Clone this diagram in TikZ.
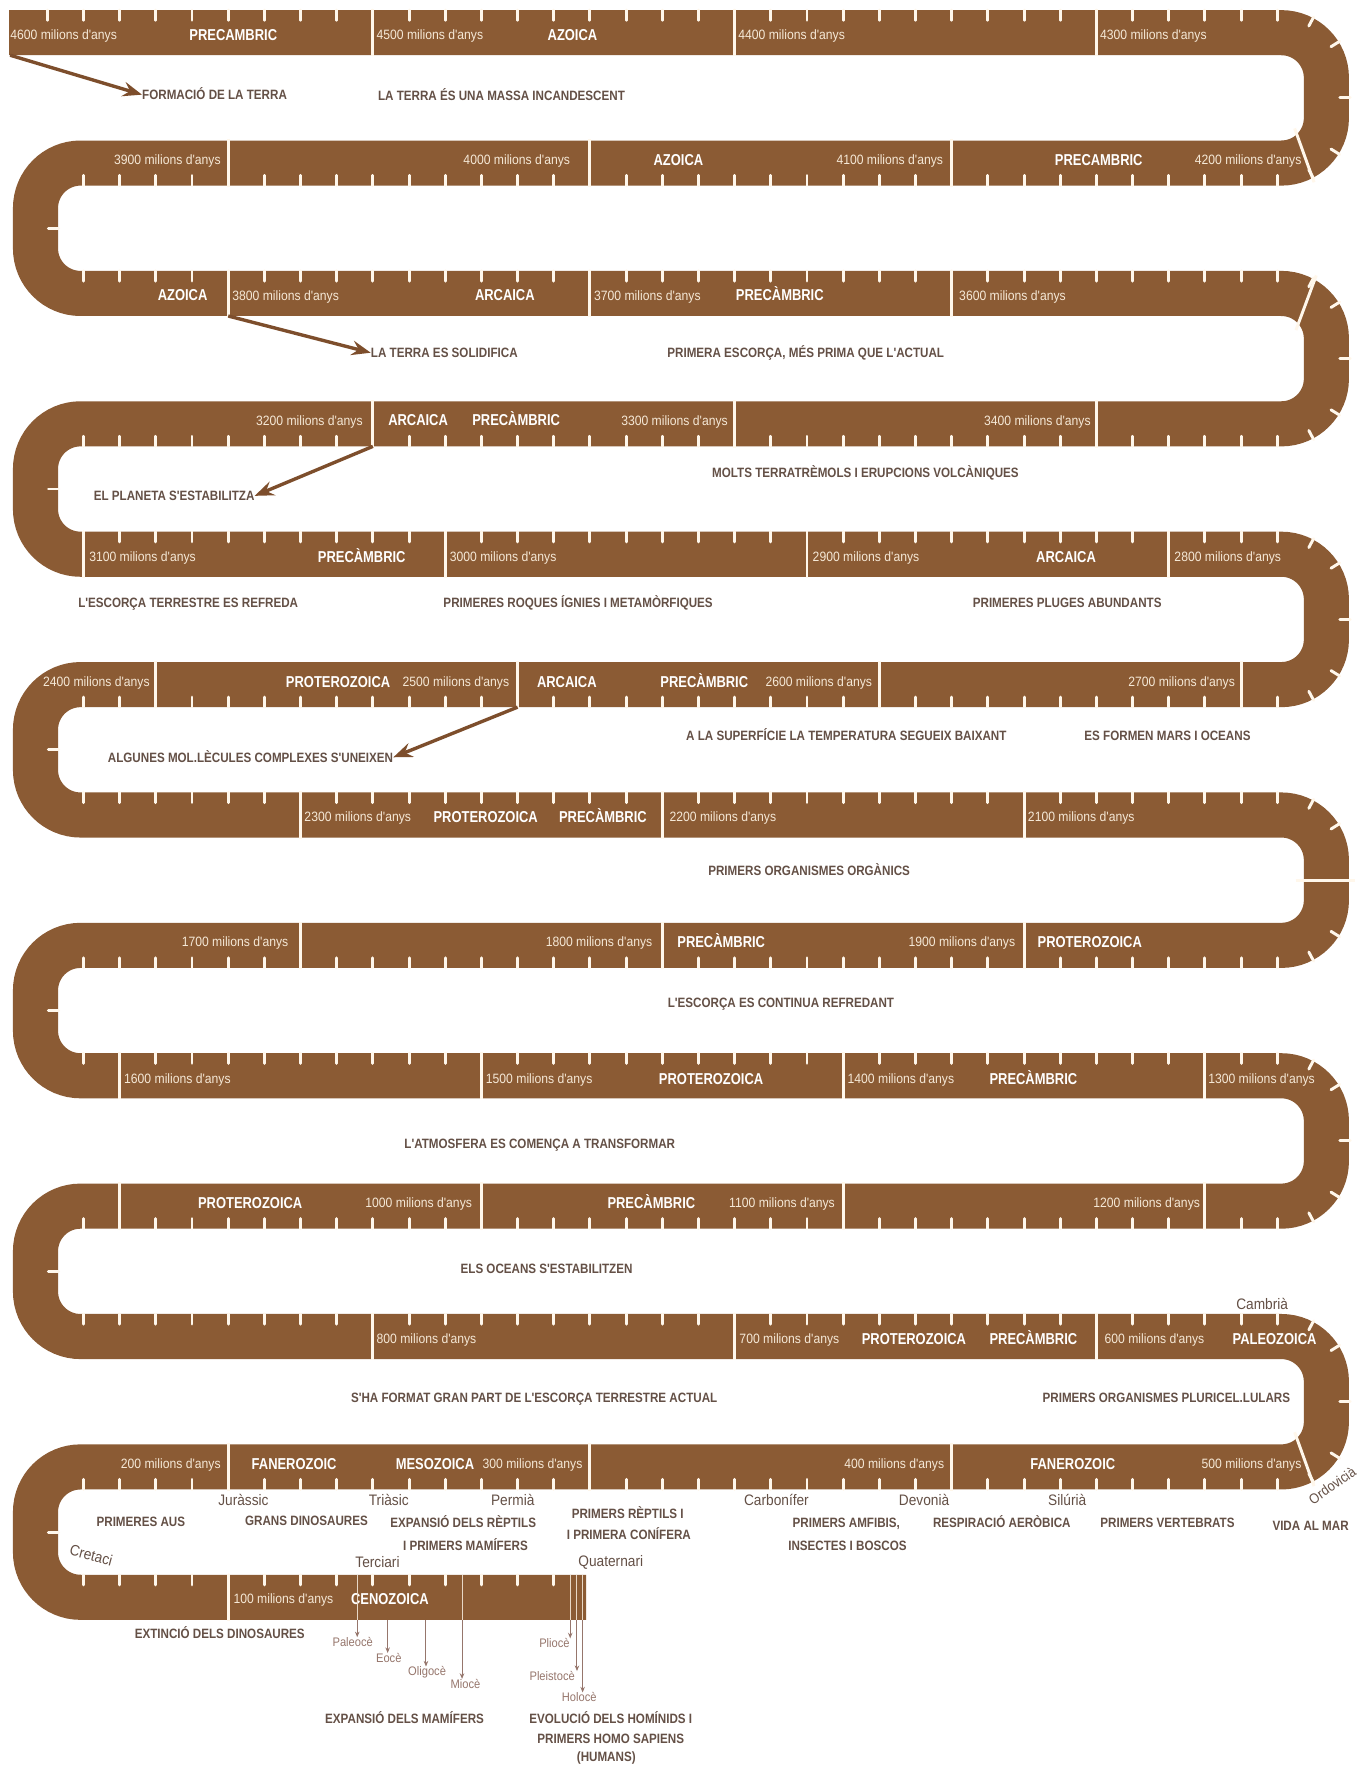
\documentclass[tikz,border=0pt]{standalone}
\usepackage{fontspec}
\setmainfont{Liberation Sans}
\newfontfamily\nar[FakeStretch=0.82]{Liberation Sans}
\newfontfamily\narev[FakeStretch=0.86]{Liberation Sans}
\newfontfamily\narm[FakeStretch=0.9]{Liberation Sans}
\usetikzlibrary{arrows.meta,calc}
\definecolor{band}{RGB}{139,91,52}
\definecolor{tick}{RGB}{255,247,235}
\definecolor{dtext}{RGB}{100,80,70}
\definecolor{ltext}{RGB}{245,232,214}
\definecolor{arr}{RGB}{125,78,44}
\definecolor{epo}{RGB}{150,118,108}
\newcommand\bandticks[4]{%
  \foreach \j in {#3,...,#4}{\draw[tk] ({42+32.1*\j},{#1+#2*20}) -- ++(0,{-#2*9});}}
\newcommand\bandseps[2]{%
  \foreach \j in {#2}{\draw[sep] ({42+32.1*\j},{#1-21}) -- ({42+32.1*\j},{#1+21});}}
\begin{document}
\begin{tikzpicture}[x=1pt,y=-1pt,
  bandline/.style={line width=40pt, draw=band, rounded corners=40pt},
  tk/.style={draw=tick, line width=2.6pt, line cap=round},
  sep/.style={draw=tick, line width=2.6pt},
  era/.style={text=white, font=\nar\bfseries\fontsize{14}{14}\selectfont, inner sep=0pt, text height=10pt, text depth=0pt},
  myr/.style={text=ltext, font=\narm\fontsize{12}{12}\selectfont, inner sep=0pt, text height=8.6pt, text depth=0pt},
  ev/.style={text=dtext, font=\narev\bfseries\fontsize{12}{12}\selectfont, inner sep=0pt, text height=8.6pt, text depth=0pt},
  per/.style={text=dtext, font=\narm\fontsize{13.5}{13.5}\selectfont, inner sep=0pt, text height=9.6pt, text depth=0pt},
  epoch/.style={text=epo, font=\narm\fontsize{11}{11}\selectfont, inner sep=0pt, text height=7.9pt, text depth=0pt},
  bigarrow/.style={draw=arr, line width=3pt, -{Stealth[length=17pt,width=13pt,inset=6pt]}},
  thinarrow/.style={draw=epo, line width=0.9pt, -{Stealth[length=5pt,width=4pt]}},
  inband/.style={draw=tick!80!band, line width=0.9pt}
]
\fill[white] (0,0) rectangle (1212,1568);
\useasboundingbox (0,0) rectangle (1212,1568);
% serpentine band
\draw[bandline] (8,29) -- (1177,29) -- (1177,144.7) -- (31.5,144.7) -- (31.5,260.4) -- (1177,260.4) -- (1177,376.1) -- (31.5,376.1) -- (31.5,491.8) -- (1177,491.8) -- (1177,607.5) -- (31.5,607.5) -- (31.5,723.2) -- (1177,723.2) -- (1177,838.9) -- (31.5,838.9) -- (31.5,954.6) -- (1177,954.6) -- (1177,1070.3) -- (31.5,1070.3) -- (31.5,1186) -- (1177,1186) -- (1177,1301.7) -- (31.5,1301.7) -- (31.5,1417.4) -- (520,1417.4);
% ticks
\bandticks{29}{-1}{0}{34}
\bandticks{144.7}{1}{1}{34}
\bandticks{260.4}{-1}{1}{34}
\bandticks{376.1}{1}{1}{34}
\bandticks{491.8}{-1}{1}{34}
\bandticks{607.5}{1}{1}{34}
\bandticks{723.2}{-1}{1}{34}
\bandticks{838.9}{1}{1}{34}
\bandticks{954.6}{-1}{1}{34}
\bandticks{1070.3}{1}{1}{34}
\bandticks{1186}{-1}{1}{34}
\bandticks{1301.7}{1}{1}{34}
\bandticks{1417.4}{-1}{1}{14}
% curve notches
\foreach \yu/\yl in {29/144.7, 260.4/376.1, 491.8/607.5, 723.2/838.9, 954.6/1070.3, 1186/1301.7}{
  \foreach \a in {-62,-32}{\draw[tk] ($(1137,{\yu+40})+(\a:61)$) -- ($(1137,{\yu+40})+(\a:52)$);}
  \draw[tk] (1198,{(\yu+\yl)/2}) -- (1189,{(\yu+\yl)/2});
  \foreach \a in {32,62}{\draw[tk] ($(1137,{\yl-40})+(\a:61)$) -- ($(1137,{\yl-40})+(\a:52)$);}
}
\foreach \yu/\yl in {144.7/260.4, 376.1/491.8, 607.5/723.2, 838.9/954.6, 1070.3/1186, 1301.7/1417.4}{
  \draw[tk] (52,{(\yu+\yl)/2}) -- (43,{(\yu+\yl)/2});
}
% segment separators
\bandseps{29}{9,19,29}
\bandseps{144.7}{5,15,25}
\bandseps{260.4}{5,15,25}
\bandseps{376.1}{9,19,29}
\bandseps{491.8}{1,11,21,31}
\bandseps{607.5}{3,13,23,33}
\bandseps{723.2}{7,17,27}
\bandseps{838.9}{7,17,27}
\bandseps{954.6}{2,12,22,32}
\bandseps{1070.3}{2,12,22,32}
\bandseps{1186}{9,19,29}
\bandseps{1301.7}{5,15,25}
\bandseps{1417.4}{5}
\draw[sep] ($(1137,104.7)+(38:15)$) -- ($(1137,104.7)+(63:64)$);
\draw[sep] ($(1137,1261.7)+(38:15)$) -- ($(1137,1261.7)+(63:64)$);
\draw[sep] ($(1137,300.4)+(-30:15)$) -- ($(1137,300.4)+(-61:64)$);
\draw[sep] (1150,781) -- (1202,781);
% row 0
\node[myr,anchor=west] (t4600) at (9,31) {4600 milions d'anys};
\node[era] (e0a) at (207,31) {PRECAMBRIC};
\node[myr,anchor=west] (t4500) at (334,31) {4500 milions d'anys};
\node[era] (e0b) at (508,31) {AZOICA};
\node[myr,anchor=west] (t4400) at (655,31) {4400 milions d'anys};
\node[myr,anchor=west] (t4300) at (976,31) {4300 milions d'anys};
% row 1
\node[myr,anchor=east] (t4200) at (1155,142) {4200 milions d'anys};
\node[era] (e1a) at (975,142) {PRECAMBRIC};
\node[myr,anchor=east] (t4100) at (837,142) {4100 milions d'anys};
\node[era] (e1b) at (602,142) {AZOICA};
\node[myr,anchor=east] (t4000) at (506,142) {4000 milions d'anys};
\node[myr,anchor=east] (t3900) at (196,142) {3900 milions d'anys};
% row 2
\node[era] (e2a) at (162,262) {AZOICA};
\node[myr,anchor=west] (t3800) at (206,262) {3800 milions d'anys};
\node[era] (e2b) at (448,262) {ARCAICA};
\node[myr,anchor=west] (t3700) at (527,262) {3700 milions d'anys};
\node[era] (e2c) at (692,262) {PRECÀMBRIC};
\node[myr,anchor=west] (t3600) at (851,262) {3600 milions d'anys};
% row 3
\node[myr,anchor=east] (t3400) at (968,373) {3400 milions d'anys};
\node[myr,anchor=east] (t3300) at (646,373) {3300 milions d'anys};
\node[era] (e3a) at (458,373) {PRECÀMBRIC};
\node[era] (e3b) at (371,373) {ARCAICA};
\node[myr,anchor=east] (t3200) at (322,373) {3200 milions d'anys};
% row 4
\node[myr,anchor=west] (t3100) at (79,494) {3100 milions d'anys};
\node[era] (e4a) at (321,494) {PRECÀMBRIC};
\node[myr,anchor=west] (t3000) at (399,494) {3000 milions d'anys};
\node[myr,anchor=west] (t2900) at (721,494) {2900 milions d'anys};
\node[era] (e4b) at (946,494) {ARCAICA};
\node[myr,anchor=west] (t2800) at (1042,494) {2800 milions d'anys};
% row 5
\node[myr,anchor=east] (t2700) at (1096,605) {2700 milions d'anys};
\node[myr,anchor=east] (t2600) at (774,605) {2600 milions d'anys};
\node[era] (e5a) at (625,605) {PRECÀMBRIC};
\node[era] (e5b) at (503,605) {ARCAICA};
\node[myr,anchor=east] (t2500) at (452,605) {2500 milions d'anys};
\node[era] (e5c) at (300,605) {PROTEROZOICA};
\node[myr,anchor=east] (t2400) at (133,605) {2400 milions d'anys};
% row 6
\node[myr,anchor=west] (t2300) at (270,725) {2300 milions d'anys};
\node[era] (e6a) at (431,725) {PROTEROZOICA};
\node[era] (e6b) at (535,725) {PRECÀMBRIC};
\node[myr,anchor=west] (t2200) at (594,725) {2200 milions d'anys};
\node[myr,anchor=west] (t2100) at (912,725) {2100 milions d'anys};
% row 7
\node[era] (e7a) at (967,836) {PROTEROZOICA};
\node[myr,anchor=east] (t1900) at (901,836) {1900 milions d'anys};
\node[era] (e7b) at (640,836) {PRECÀMBRIC};
\node[myr,anchor=east] (t1800) at (579,836) {1800 milions d'anys};
\node[myr,anchor=east] (t1700) at (256,836) {1700 milions d'anys};
% row 8
\node[myr,anchor=west] (t1600) at (110,957) {1600 milions d'anys};
\node[myr,anchor=west] (t1500) at (431,957) {1500 milions d'anys};
\node[era] (e8a) at (631,957) {PROTEROZOICA};
\node[myr,anchor=west] (t1400) at (752,957) {1400 milions d'anys};
\node[era] (e8b) at (917,957) {PRECÀMBRIC};
\node[myr,anchor=west] (t1300) at (1072,957) {1300 milions d'anys};
% row 9
\node[myr,anchor=east] (t1200) at (1065,1067) {1200 milions d'anys};
\node[myr,anchor=east] (t1100) at (741,1067) {1100 milions d'anys};
\node[era] (e9a) at (578,1067) {PRECÀMBRIC};
\node[myr,anchor=east] (t1000) at (419,1067) {1000 milions d'anys};
\node[era] (e9b) at (222,1067) {PROTEROZOICA};
% row 10
\node[myr,anchor=west] (t800) at (334,1188) {800 milions d'anys};
\node[myr,anchor=west] (t700) at (656,1188) {700 milions d'anys};
\node[era] (e10a) at (811,1188) {PROTEROZOICA};
\node[era] (e10b) at (917,1188) {PRECÀMBRIC};
\node[myr,anchor=west] (t600) at (980,1188) {600 milions d'anys};
\node[era] (e10c) at (1131,1188) {PALEOZOICA};
% row 11
\node[myr,anchor=east] (t500) at (1155,1299) {500 milions d'anys};
\node[era] (e11a) at (952,1299) {FANEROZOIC};
\node[myr,anchor=east] (t400) at (838,1299) {400 milions d'anys};
\node[myr,anchor=east] (t300) at (517,1299) {300 milions d'anys};
\node[era] (e11b) at (386,1299) {MESOZOICA};
\node[era] (e11c) at (261,1299) {FANEROZOIC};
\node[myr,anchor=east] (t200) at (196,1299) {200 milions d'anys};
% row 12
\node[myr,anchor=west] (t100) at (207,1419) {100 milions d'anys};
\node[era] (e12a) at (346,1419) {CENOZOICA};
% events between rows
\node[ev,anchor=west] (formacio) at (126,84) {FORMACIÓ DE LA TERRA};
\node[ev] (massa) at (445,85) {LA TERRA ÉS UNA MASSA INCANDESCENT};
\node[ev,anchor=west] (solid) at (329,313) {LA TERRA ES SOLIDIFICA};
\node[ev] (escorca) at (715,313) {PRIMERA ESCORÇA, MÉS PRIMA QUE L'ACTUAL};
\node[ev,anchor=east] (estab) at (226,440) {EL PLANETA S'ESTABILITZA};
\node[ev] (terratr) at (768,419) {MOLTS TERRATRÈMOLS I ERUPCIONS VOLCÀNIQUES};
\node[ev] (refreda) at (167,535) {L'ESCORÇA TERRESTRE ES REFREDA};
\node[ev] (roques) at (513,535) {PRIMERES ROQUES ÍGNIES I METAMÒRFIQUES};
\node[ev] (pluges) at (947,535) {PRIMERES PLUGES ABUNDANTS};
\node[ev,anchor=east] (molec) at (349,672) {ALGUNES MOL.LÈCULES COMPLEXES S'UNEIXEN};
\node[ev] (superf) at (751,653) {A LA SUPERFÍCIE LA TEMPERATURA SEGUEIX BAIXANT};
\node[ev] (mars) at (1036,653) {ES FORMEN MARS I OCEANS};
\node[ev] (organ) at (718,773) {PRIMERS ORGANISMES ORGÀNICS};
\node[ev] (contin) at (693,890) {L'ESCORÇA ES CONTINUA REFREDANT};
\node[ev] (atmos) at (479,1015) {L'ATMOSFERA ES COMENÇA A TRANSFORMAR};
\node[ev] (oceans) at (485,1126) {ELS OCEANS S'ESTABILITZEN};
\node[ev] (format) at (474,1240) {S'HA FORMAT GRAN PART DE L'ESCORÇA TERRESTRE ACTUAL};
\node[ev] (pluric) at (1035,1240) {PRIMERS ORGANISMES PLURICEL.LULARS};
% arrows
\coordinate (a1s) at (9,49);
\coordinate (a2s) at (202.5,280.4);
\coordinate (a3s) at (330.9,396.1);
\coordinate (a4s) at (459.3,627.5);
\draw[bigarrow] (a1s) -- (formacio.west);
\draw[bigarrow] (a2s) -- (solid.west);
\draw[bigarrow] (a3s) -- (estab.east);
\draw[bigarrow] (a4s) -- (molec.east);
% periods and events row 11
\node[per] (camb) at (1120,1157) {Cambrià};
\node[per,rotate=35,font=\narm\fontsize{12.5}{12.5}\selectfont] (ordo) at (1182,1318) {Ordovicià};
\node[per,rotate=-15] (cret) at (81,1380) {Cretaci};
\node[per] (jura) at (216,1331) {Juràssic};
\node[per] (trias) at (345,1331) {Triàsic};
\node[per] (perm) at (455,1331) {Permià};
\node[per] (carb) at (689,1331) {Carbonífer};
\node[per] (devo) at (820,1331) {Devonià};
\node[per] (silu) at (947,1331) {Silúrià};
\node[ev] (aus) at (125,1350) {PRIMERES AUS};
\node[ev] (dinos) at (272,1349) {GRANS DINOSAURES};
\node[ev] (exprep) at (411,1351) {EXPANSIÓ DELS RÈPTILS};
\node[ev] (primam) at (413,1372) {I PRIMERS MAMÍFERS};
\node[ev] (prirep) at (557,1343) {PRIMERS RÈPTILS I};
\node[ev] (conif) at (558,1362) {I PRIMERA CONÍFERA};
\node[ev] (amfib) at (751,1351) {PRIMERS AMFIBIS,};
\node[ev] (insec) at (752,1372) {INSECTES I BOSCOS};
\node[ev] (aerob) at (889,1351) {RESPIRACIÓ AERÒBICA};
\node[ev] (verteb) at (1036,1351) {PRIMERS VERTEBRATS};
\node[ev] (vida) at (1163,1354) {VIDA AL MAR};
\node[per] (terc) at (335,1386) {Terciari};
\node[per] (quat) at (542,1385) {Quaternari};
% row 12 events
\node[ev] (extinc) at (195,1450) {EXTINCIÓ DELS DINOSAURES};
\node[epoch] (paleo) at (313,1457) {Paleocè};
\node[epoch] (eoce) at (345,1471) {Eocè};
\node[epoch] (oligo) at (379,1483) {Oligocè};
\node[epoch] (mioce) at (413,1494) {Miocè};
\node[epoch] (plio) at (492,1458) {Pliocè};
\node[epoch] (pleis) at (490,1487) {Pleistocè};
\node[epoch] (holo) at (514,1506) {Holocè};
\node[ev] (expmam) at (359,1525) {EXPANSIÓ DELS MAMÍFERS};
\node[ev] (evol) at (542,1525) {EVOLUCIÓ DELS HOMÍNIDS I};
\node[ev] (homo) at (542,1543) {PRIMERS HOMO SAPIENS};
\node[ev] (huma) at (538,1559) {(HUMANS)};
\foreach \n/\x in {p1/317, p4/410, p5/506, p6/512, p7/517}{
  \coordinate (\n t) at (\x,1397.4);
  \coordinate (\n) at (\x,1437.4);
  \draw[inband] (\n t) -- (\n);
}
\coordinate (p2) at (344,1437.4);
\coordinate (p3) at (378,1437.4);
\draw[thinarrow] (p1) -- (p1 |- paleo.north);
\draw[thinarrow] (p2) -- (p2 |- eoce.north);
\draw[thinarrow] (p3) -- (p3 |- oligo.north);
\draw[thinarrow] (p4) -- (p4 |- mioce.north);
\draw[thinarrow] (p5) -- (p5 |- plio.north);
\draw[thinarrow] (p6) -- (p6 |- pleis.north);
\draw[thinarrow] (p7) -- (p7 |- holo.north);
\end{tikzpicture}
\end{document}
